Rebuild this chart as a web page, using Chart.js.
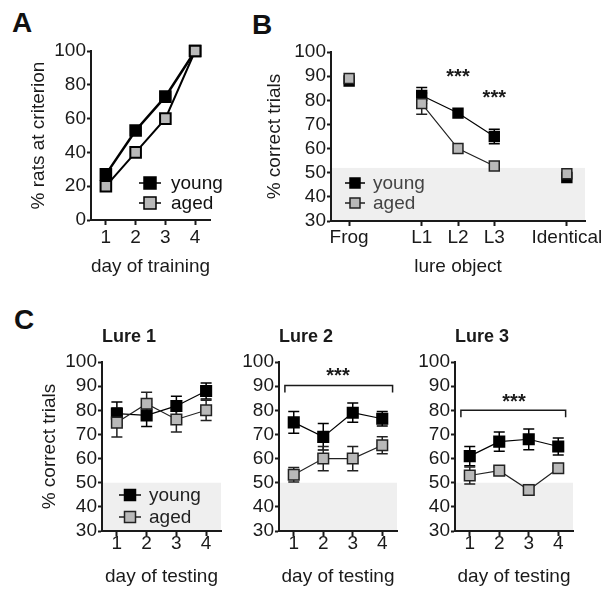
<!DOCTYPE html>
<html>
<head>
<meta charset="utf-8">
<script src="https://cdn.jsdelivr.net/npm/chart.js@4.4.1/dist/chart.umd.min.js"></script>
<style>
  body { margin: 0; background: #fff; }
  #fig { position: relative; width: 614px; height: 603px; overflow: hidden; font-family: "Liberation Sans", Arial, sans-serif; }
  canvas { position: absolute; }
  .letter { position: absolute; font-weight: bold; font-size: 28px; line-height: 28px; color: #111; }
</style>
</head>
<body>
<div id="fig">
  <div class="letter" style="left:12px;top:9px">A</div>
  <div class="letter" style="left:252px;top:11px">B</div>
  <div class="letter" style="left:14px;top:306px">C</div>
  <canvas id="chartA" width="228" height="255" style="left:0;top:30px"></canvas>
  <canvas id="chartB" width="369" height="255" style="left:245px;top:30px"></canvas>
  <canvas id="lure1" width="230" height="313" style="left:0;top:290px"></canvas>
  <canvas id="lure2" width="180" height="313" style="left:230px;top:290px"></canvas>
  <canvas id="lure3" width="204" height="313" style="left:410px;top:290px"></canvas>
</div>
<script>
// ---------- DATA ----------
const trainingDays = ['1', '2', '3', '4'];
const youngCriterion = [27, 53, 73, 100];
const agedCriterion = [20, 40, 60, 100];

const lureObjects = ['Frog', '', 'L1', 'L2', 'L3', '', 'Identical'];
const youngLure = [88, null, 82, 74.7, 65, null, 48];
const youngLureErr = [0, null, 3.3, 0, 3, null, 0];
const agedLure = [89, null, 78.6, 60, 52.8, null, 49.6];
const agedLureErr = [0, null, 4.4, 0, 0, null, 0];

const testDays = ['1', '2', '3', '4'];
const youngL1 = [78.6, 77.9, 81.8, 88];
const youngL1Err = [4.8, 4.6, 4, 3.3];
const agedL1 = [74.9, 82.7, 76.2, 80];
const agedL1Err = [6, 4.8, 5.2, 4.2];
const youngL2 = [75, 69, 79, 76.5];
const youngL2Err = [4.5, 5.5, 4, 3];
const agedL2 = [53.3, 60, 60, 65.5];
const agedL2Err = [3, 5, 5, 3.5];
const youngL3 = [61, 67, 68, 65];
const youngL3Err = [4, 4, 4.3, 3.5];
const agedL3 = [53, 55, 47, 56];
const agedL3Err = [3.5, 1.5, 2, 1];

// ---------- LOOK ----------
const ink = '#1a1a1a';
const youngFill = '#000';
const agedFill = '#b9b9b9';
const agedEdge = '#222';
const bandColor = '#efefef';

Chart.defaults.font.family = '"Liberation Sans", Arial, sans-serif';
Chart.defaults.font.size = 19;
Chart.defaults.color = ink;
Chart.defaults.animation = false;
Chart.defaults.plugins.legend.display = false;
Chart.defaults.plugins.tooltip.enabled = false;

// grey "chance" band behind the data
const band = {
    id: 'band',
    beforeDraw(chart, args, o) {
        if (o.to == null) return;
        const { ctx, chartArea: a, scales: { y } } = chart;
        const top = y.getPixelForValue(o.to);
        ctx.save();
        ctx.fillStyle = bandColor;
        ctx.fillRect(a.left + 1, top, a.right - a.left - 1, y.getPixelForValue(y.min) - top - 1);
        ctx.restore();
    }
};

// SEM whiskers, drawn under the squares
const errorBars = {
    id: 'errorBars',
    beforeDatasetsDraw(chart) {
        const { ctx, scales: { y } } = chart;
        chart.data.datasets.forEach((ds, i) => {
            if (!ds.errors) return;
            const meta = chart.getDatasetMeta(i);
            ctx.save();
            ctx.strokeStyle = ds.pointBorderColor;
            ctx.lineWidth = 1.5;
            meta.data.forEach((pt, j) => {
                const v = ds.data[j], e = ds.errors[j];
                if (v == null || !e) return;
                const hi = y.getPixelForValue(v + e), lo = y.getPixelForValue(v - e);
                ctx.beginPath();
                ctx.moveTo(pt.x, hi); ctx.lineTo(pt.x, lo);
                ctx.moveTo(pt.x - 5.5, hi); ctx.lineTo(pt.x + 5.5, hi);
                ctx.moveTo(pt.x - 5.5, lo); ctx.lineTo(pt.x + 5.5, lo);
                ctx.stroke();
            });
            ctx.restore();
        });
    }
};

// significance brackets and stars
const marks = {
    id: 'marks',
    afterDatasetsDraw(chart, args, o) {
        const { ctx, scales: { x, y } } = chart;
        ctx.save();
        ctx.strokeStyle = ink;
        ctx.fillStyle = ink;
        ctx.lineWidth = 1.5;
        (o.brackets || []).forEach(b => {
            const l = x.getPixelForValue(b.from), r = x.getPixelForValue(b.to), py = y.getPixelForValue(b.y);
            ctx.beginPath();
            ctx.moveTo(l, py + 7); ctx.lineTo(l, py); ctx.lineTo(r, py); ctx.lineTo(r, py + 7);
            ctx.stroke();
        });
        ctx.font = 'bold 20px "Liberation Sans", Arial, sans-serif';
        ctx.textAlign = 'center';
        ctx.textBaseline = 'alphabetic';
        (o.stars || []).forEach(s => {
            ctx.fillText('***', x.getPixelForValue(s.x), y.getPixelForValue(s.y) + 11.5);
        });
        ctx.restore();
    }
};

// legend: line with a square through it
const boxLegend = {
    id: 'boxLegend',
    afterDraw(chart, args, o) {
        if (o.x == null) return;
        const { ctx, chartArea: a } = chart;
        ctx.save();
        ctx.font = '19px "Liberation Sans", Arial, sans-serif';
        ctx.textBaseline = 'middle';
        chart.data.datasets.forEach((ds, i) => {
            const cx = a.left + o.x, cy = a.top + o.y + i * o.dy, h = o.size / 2;
            ctx.strokeStyle = ds.pointBorderColor;
            ctx.lineWidth = 1.5;
            ctx.beginPath(); ctx.moveTo(cx - o.half, cy); ctx.lineTo(cx + o.half, cy); ctx.stroke();
            ctx.fillStyle = ds.pointBackgroundColor;
            ctx.fillRect(cx - h, cy - h, o.size, o.size);
            ctx.strokeRect(cx - h, cy - h, o.size, o.size);
            ctx.fillStyle = o.color;
            ctx.fillText(ds.label, cx + o.text, cy + 1);
        });
        ctx.restore();
    }
};

function yAxis(min, max, step, width, title, titlePad) {
    return {
        min, max,
        ticks: { stepSize: step, padding: 1, color: ink, autoSkip: false },
        grid: { drawOnChartArea: false, tickLength: 4, tickWidth: 2, tickColor: ink },
        border: { color: ink, width: 2 },
        title: { display: !!title, text: title || '', color: ink, padding: { top: titlePad || 0, bottom: 0 } },
        afterFit: s => { s.width = width; }
    };
}

function xAxis(labels, height, title, titlePad, labelPad) {
    return {
        offset: true,
        ticks: { padding: labelPad, color: ink, autoSkip: false, maxRotation: 0 },
        grid: {
            offset: false, drawOnChartArea: false, tickLength: 5, tickWidth: 2,
            tickColor: c => labels[c.index] === '' ? 'rgba(0,0,0,0)' : ink
        },
        border: { color: ink, width: 2 },
        title: { display: true, text: title, color: ink, padding: { top: 0, bottom: titlePad } },
        afterFit: s => { s.height = height; }
    };
}

function series(label, data, errors, fill, edge, lineW, size, edgeW, order) {
    return {
        label, data, errors, order,
        borderColor: edge, borderWidth: lineW,
        pointStyle: 'rect', pointRadius: size, pointBackgroundColor: fill,
        pointBorderColor: edge, pointBorderWidth: edgeW,
        tension: 0, fill: false, clip: false
    };
}

// ---------- A: day of training ----------
new Chart(document.getElementById('chartA'), {
    type: 'line',
    data: {
        labels: trainingDays,
        datasets: [
            series('young', youngCriterion, null, youngFill, '#000', 2.5, 7.5, 2, 2),
            series('aged', agedCriterion, null, agedFill, '#000', 2, 7.5, 2, 1)
        ]
    },
    options: {
        responsive: false,
        layout: { padding: { left: 0, top: 21, right: 18, bottom: 0 } },
        scales: {
            x: xAxis(trainingDays, 65, 'day of training', 6.6, 1),
            y: yAxis(0, 100, 20, 91, '% rats at criterion', 27.6)
        },
        plugins: { boxLegend: { x: 59, y: 132, dy: 20, half: 11, size: 12, text: 21, color: '#111' } }
    },
    plugins: [boxLegend]
});

// ---------- B: lure object ----------
new Chart(document.getElementById('chartB'), {
    type: 'line',
    data: {
        labels: lureObjects,
        datasets: [
            series('young', youngLure, youngLureErr, youngFill, '#000', 1.2, 7, 1.5, 2),
            series('aged', agedLure, agedLureErr, agedFill, agedEdge, 1.2, 7, 1.5, 1)
        ]
    },
    options: {
        responsive: false,
        layout: { padding: { left: 0, top: 22, right: 29, bottom: 0 } },
        scales: {
            x: xAxis(lureObjects, 64, 'lure object', 6.6, 0),
            y: yAxis(30, 100, 10, 86, '% correct trials', 18.6)
        },
        plugins: {
            band: { to: 52 },
            marks: { stars: [{ x: 3, y: 92 }, { x: 4, y: 83.4 }] },
            boxLegend: { x: 24, y: 131, dy: 20, half: 10, size: 10, text: 18, color: '#444' }
        }
    },
    plugins: [band, errorBars, marks, boxLegend]
});

// ---------- C: lures by day of testing ----------
function lureChart(id, title, young, youngErr, aged, agedErr, yWidth, yTitle, padRight, extra) {
    return new Chart(document.getElementById(id), {
        type: 'line',
        data: {
            labels: testDays,
            datasets: [
                series('young', young, youngErr, youngFill, '#000', 1.2, 7.5, 1.5, 2),
                series('aged', aged, agedErr, agedFill, agedEdge, 1.2, 7.5, 1.5, 1)
            ]
        },
        options: {
            responsive: false,
            layout: { padding: { left: 0, top: 0, right: padRight, bottom: 0 } },
            scales: {
                x: xAxis(testDays, 72, 'day of testing', 14.6, -4),
                y: yAxis(30, 100, 10, yWidth, yTitle, 38.6)
            },
            plugins: Object.assign({
                title: {
                    display: true, text: title, align: 'start', fullSize: false, color: ink,
                    font: { size: 18, weight: 'bold' }, padding: { top: 36.2, bottom: 14.2 }
                },
                band: { to: 50 }
            }, extra)
        },
        plugins: [band, errorBars, marks, boxLegend]
    });
}

lureChart('lure1', 'Lure 1', youngL1, youngL1Err, agedL1, agedL1Err, 102, '% correct trials', 8,
    { boxLegend: { x: 28, y: 133, dy: 22, half: 11, size: 11, text: 19, color: '#222' } });
lureChart('lure2', 'Lure 2', youngL2, youngL2Err, agedL2, agedL2Err, 49, '', 13,
    { marks: { brackets: [{ from: -0.3, to: 3.35, y: 90.3 }], stars: [{ x: 1.5, y: 96.6 }] } });
lureChart('lure3', 'Lure 3', youngL3, youngL3Err, agedL3, agedL3Err, 45, '', 41,
    { marks: { brackets: [{ from: -0.3, to: 3.25, y: 80 }], stars: [{ x: 1.5, y: 85.8 }] } });
</script>
</body>
</html>
